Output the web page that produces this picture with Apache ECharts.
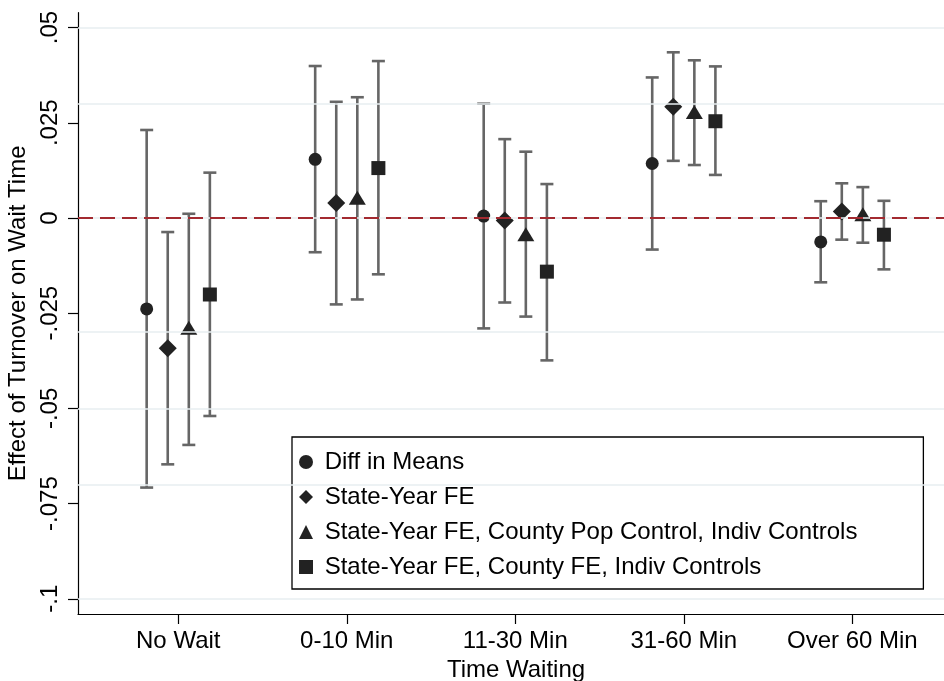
<!DOCTYPE html>
<html>
<head>
<meta charset="utf-8">
<script src="https://cdn.jsdelivr.net/npm/echarts@6/dist/echarts.min.js"></script>
<style>
  html, body { margin: 0; padding: 0; background: #fff; }
  #chart { width: 944px; height: 681px; }
</style>
</head>
<body>
<div id="chart"></div>
<script>
// ---- data ----
const categories = ['No Wait', '0-10 Min', '11-30 Min', '31-60 Min', 'Over 60 Min'];
const seriesNames = [
  'Diff in Means',
  'State-Year FE',
  'State-Year FE, County Pop Control, Indiv Controls',
  'State-Year FE, County FE, Indiv Controls'
];
const yTicks = [-0.1, -0.075, -0.05, -0.025, 0, 0.025, 0.05];

const diffMeansEst = [-0.0239, 0.0154, 0.0005, 0.0143, -0.0063];
const diffMeansLo  = [-0.0708, -0.0090, -0.0290, -0.0083, -0.0169];
const diffMeansHi  = [0.0231, 0.0399, 0.0300, 0.0369, 0.0044];

const stateYearEst = [-0.0342, 0.0039, -0.0007, 0.0292, 0.0017];
const stateYearLo  = [-0.0647, -0.0227, -0.0222, 0.0150, -0.0057];
const stateYearHi  = [-0.0037, 0.0305, 0.0207, 0.0435, 0.0091];

const countyPopEst = [-0.0288, 0.0053, -0.0043, 0.0278, 0.0010];
const countyPopLo  = [-0.0596, -0.0214, -0.0259, 0.0139, -0.0065];
const countyPopHi  = [0.0011, 0.0317, 0.0174, 0.0414, 0.0081];

const countyFEEst = [-0.0201, 0.0131, -0.0141, 0.0254, -0.0044];
const countyFELo  = [-0.0520, -0.0148, -0.0374, 0.0113, -0.0135];
const countyFEHi  = [0.0119, 0.0412, 0.0089, 0.0398, 0.0045];

// ---- build ----
const models = [
  { est: diffMeansEst, lo: diffMeansLo, hi: diffMeansHi },
  { est: stateYearEst, lo: stateYearLo, hi: stateYearHi },
  { est: countyPopEst, lo: countyPopLo, hi: countyPopHi },
  { est: countyFEEst,  lo: countyFELo,  hi: countyFEHi }
];
const offsets = [-3 / 16, -1 / 16, 1 / 16, 3 / 16];
const symbols = ['circle', 'diamond', 'triangle', 'rect'];
const symbolSizes = [13, 18, [17, 14], 14];
const FONT = "'Liberation Sans', Arial, Helvetica, sans-serif";
const markerColor = '#222222';
const ciColor = '#666666';

function fmtY(v) {
  if (v === 0) return '0';
  return String(v).replace('0.', '.');
}

const series = [];

// gridlines
series.push({
  type: 'line', name: 'grid', data: [], silent: true, z: 1,
  markLine: {
    silent: true, symbol: ['none', 'none'], label: { show: false },
    lineStyle: { color: '#e7eef0', width: 1.5, type: 'solid' },
    data: yTicks.map(v => ({ yAxis: v }))
  }
});
// zero reference line
series.push({
  type: 'line', name: 'zero', data: [], silent: true, z: 2,
  markLine: {
    silent: true, symbol: ['none', 'none'], label: { show: false },
    lineStyle: { color: '#a32a30', width: 2, type: [15, 7] },
    data: [{ yAxis: 0 }]
  }
});

models.forEach((m, s) => {
  const ciData = categories.map((c, i) => [i + offsets[s], m.lo[i], m.hi[i]]);
  series.push({
    type: 'custom', name: seriesNames[s] + ' CI', z: 3, silent: true,
    data: ciData,
    encode: { x: 0, y: [1, 2] },
    renderItem: function (params, api) {
      const x = api.value(0);
      const pLo = api.coord([x, api.value(1)]);
      const pHi = api.coord([x, api.value(2)]);
      const cap = 6.5;
      const st = { stroke: ciColor, lineWidth: 2.6 };
      return {
        type: 'group',
        children: [
          { type: 'line', shape: { x1: pLo[0], y1: pLo[1], x2: pHi[0], y2: pHi[1] }, style: st },
          { type: 'line', shape: { x1: pLo[0] - cap, y1: pLo[1], x2: pLo[0] + cap, y2: pLo[1] }, style: st },
          { type: 'line', shape: { x1: pHi[0] - cap, y1: pHi[1], x2: pHi[0] + cap, y2: pHi[1] }, style: st }
        ]
      };
    }
  });
  series.push({
    type: 'scatter', name: seriesNames[s], z: 4,
    symbol: symbols[s], symbolSize: symbolSizes[s],
    itemStyle: { color: markerColor, opacity: 1 },
    data: categories.map((c, i) => [i + offsets[s], m.est[i]])
  });
});

const option = {
  animation: false,
  backgroundColor: '#ffffff',
  textStyle: { fontFamily: FONT },
  grid: { left: 78, right: 0, top: 12.7, bottom: 67, containLabel: false, outerBoundsMode: 'none' },
  xAxis: {
    type: 'value', min: -0.595, max: 4.544,
    axisLine: { show: true, onZero: false, lineStyle: { color: '#000', width: 1.2 } },
    axisTick: { show: true, customValues: categories.map((c, i) => i), length: 10, lineStyle: { color: '#000', width: 1.2 } },
    axisLabel: {
      show: true, customValues: categories.map((c, i) => i),
      formatter: v => categories[Math.round(v)],
      fontSize: 24, color: '#000', margin: 15, fontFamily: FONT
    },
    splitLine: { show: false },
    name: 'Time Waiting', nameLocation: 'middle', nameGap: 32,
    nameTextStyle: { fontSize: 24, color: '#000', fontFamily: FONT, padding: [0, 0, 0, 10] }
  },
  yAxis: {
    type: 'value', min: -0.104, max: 0.0539,
    axisLine: { show: true, onZero: false, lineStyle: { color: '#000', width: 1.2 } },
    axisTick: { show: true, customValues: yTicks, length: 10, lineStyle: { color: '#000', width: 1.2 } },
    axisLabel: {
      show: true, customValues: yTicks, rotate: 90, formatter: fmtY,
      fontSize: 24, color: '#000', margin: 16, fontFamily: FONT
    },
    splitLine: { show: false },
    name: 'Effect of Turnover on Wait Time', nameLocation: 'middle', nameGap: 43,
    nameTextStyle: { fontSize: 24, color: '#000', fontFamily: FONT }
  },
  legend: {
    show: true, orient: 'vertical', left: 292, top: 437,
    padding: [13, 66, 10, 7],
    itemGap: 11, itemWidth: 14, itemHeight: 14,
    backgroundColor: '#ffffff', borderColor: '#000', borderWidth: 1.3,
    formatter: name => '\u00a0' + name,
    textStyle: { fontSize: 24, lineHeight: 24, color: '#000', fontFamily: FONT },
    data: seriesNames.map((n, s) => ({ name: n, icon: symbols[s], itemStyle: { color: markerColor } })),
    selectedMode: false
  },
  series: series
};

const chart = echarts.init(document.getElementById('chart'), null, { renderer: 'canvas' });
chart.setOption(option);
</script>
</body>
</html>
